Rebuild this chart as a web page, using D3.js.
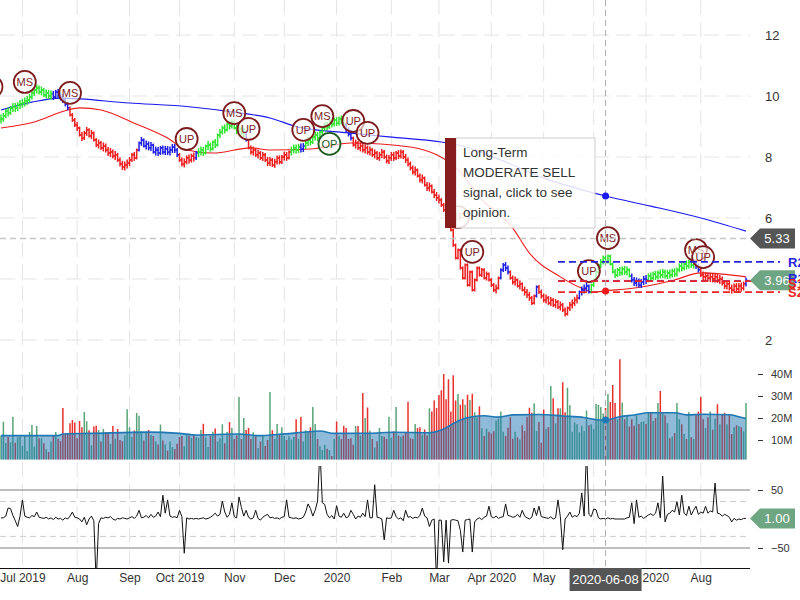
<!DOCTYPE html>
<html>
<head>
<meta charset="utf-8">
<script src="https://cdn.jsdelivr.net/npm/d3@7/dist/d3.min.js"></script>
<style>
  body { margin: 0; background: #fff; }
  svg { display: block; font-family: "Liberation Sans", Arial, sans-serif; }
</style>
</head>
<body>
<svg id="chart" width="800" height="600"></svg>
<script>
// [A] Datos -------------------------------------------------------------------
const firstDay = "2019-06-18";
const lastDay = "2020-08-28";

// cierre diario, una linea por mes
const closes = [
  9.25, 9.35, 9.5, 9.45, 9.6, 9.65, 9.6, 9.7, 9.75,
  9.77, 9.84, 9.87, 9.97, 10.1, 10.2, 10.26, 10.13, 10.2, 10.03, 10.1, 10.0, 10.07, 9.97, 10.13, 10.03, 9.97, 9.87, 9.74, 9.61, 9.38, 9.21, 9.05,
  8.95, 8.72, 8.62, 8.79, 8.89, 8.69, 8.79, 8.56, 8.39, 8.46, 8.30, 8.36, 8.23, 8.13, 8.16, 8.03, 8.07, 7.90, 7.77, 7.67, 7.74, 7.80,
  7.90, 8.07, 7.97, 8.23, 8.46, 8.56, 8.36, 8.43, 8.30, 8.39, 8.16, 8.23, 8.13, 8.30, 8.16, 8.26, 8.16, 8.23, 8.33, 8.23, 8.07,
  7.90, 7.77, 7.84, 7.97, 7.90, 8.03, 7.97, 8.13, 8.16, 8.23, 8.13, 8.36, 8.39, 8.26, 8.49, 8.39, 8.72, 8.82, 8.95, 8.89, 9.08, 9.02, 9.15,
  8.95, 8.85, 8.92, 8.79, 8.82, 8.56, 8.30, 8.16, 8.23, 8.07, 8.13, 7.97, 8.07, 7.90, 7.80, 7.90, 7.74, 7.84, 7.97, 7.84, 8.0,
  8.07, 7.97, 8.16, 8.23, 8.30, 8.23, 8.33, 8.26, 8.36, 8.46, 8.56, 8.49, 8.66, 8.72, 8.62, 8.82, 8.95, 9.05, 8.98, 9.15, 9.08, 9.21,
  9.11, 9.25, 9.18, 9.05, 8.89, 8.75, 8.62, 8.39, 8.46, 8.30, 8.36, 8.23, 8.30, 8.16, 8.23, 8.07, 8.13, 7.97, 8.07, 8.16, 8.0, 7.87, 7.97,
  8.07, 7.97, 8.13, 8.03, 8.16, 8.0, 7.90, 7.77, 7.64, 7.51, 7.57, 7.38, 7.25, 7.31, 7.08, 6.98, 7.05, 6.85, 6.75, 6.66,
  6.59, 6.43, 6.26, 6.10, 5.87, 5.61, 5.11, 4.69, 4.95, 4.36, 4.03, 4.46, 3.80, 4.23, 3.64, 3.97, 4.36, 4.13, 4.30, 4.03, 4.16, 3.97,
  3.80, 3.64, 3.70, 4.03, 4.30, 4.46, 4.36, 4.23, 4.03, 3.90, 3.97, 3.77, 3.84, 3.64, 3.57, 3.48, 3.38, 3.21, 3.44, 3.74, 3.57, 3.44,
  3.31, 3.38, 3.21, 3.31, 3.15, 3.25, 3.08, 3.15, 2.98, 2.85, 3.05, 3.15, 3.21, 3.31, 3.38, 3.57, 3.64, 3.70, 3.77, 3.57, 3.80,
  3.97, 4.23, 4.46, 4.56, 4.69, 4.56, 4.75, 4.49, 4.23, 4.13, 4.30, 4.20, 4.33, 4.23, 4.30, 4.10, 3.97, 3.87, 3.93, 3.80, 3.90, 4.0,
  3.97, 4.10, 4.03, 4.16, 4.07, 4.20, 4.13, 4.23, 4.10, 4.20, 4.13, 4.26, 4.16, 4.30, 4.43, 4.36, 4.49, 4.43, 4.56, 4.46, 4.52, 4.43, 4.30,
  4.13, 4.07, 4.10, 4.03, 4.07, 4.0, 4.07, 3.97, 4.0, 3.87, 3.77, 3.84, 3.70, 3.64, 3.77, 3.67, 3.77, 3.70, 3.84, 3.96
];

// volumen diario (millones)
const volumes = [
  12, 18.3, 8.6, 11.4, 9, 20.6, 8.7, 11.3, 12,
  7.3, 12, 5, 13.6, 16.8, 7, 16.4, 10.8, 10.8, 8.5, 5.8, 4.5, 9.3, 12.3, 13.6, 10.6, 9.5, 24.5, 13, 13, 17.6, 19.1, 18,
  10.8, 18.6, 15.8, 22.7, 18.5, 14.4, 7.6, 16.1, 16.5, 14.5, 9.3, 15, 13.6, 13.5, 8.3, 16.4, 10.6, 15, 10, 9.4, 12, 24,
  15.8, 11.4, 14.3, 22.3, 21, 14, 9.8, 13.5, 14.6, 12.3, 11.8, 9.3, 8, 17, 9.8, 7.9, 5.2, 9.3, 6.8, 5.9, 8.3,
  11.4, 11.8, 7.2, 12.7, 12.1, 11, 12.3, 11.2, 11, 14.6, 17.4, 11.2, 6.8, 11.8, 13.7, 15.2, 9.3, 10.8, 17.2, 8.5, 13.6, 18.2, 15.6,
  10.4, 12, 29.5, 10.4, 20, 14.6, 15.4, 10.4, 13.5, 11.8, 6.4, 9.3, 11.8, 7.3, 10, 31.8, 14.4, 10.5, 17.3, 12.7, 15.8,
  11.8, 10, 11.7, 10.2, 11.4, 19.4, 10.4, 20.6, 9.3, 14.4, 13.6, 15.8, 25, 17.3, 10.4, 7.2, 5.5, 7.8, 6, 5.5, 2.7, 10.4,
  18.4, 11.8, 10.4, 16.5, 15.5, 10.4, 10.8, 7.8, 16.4, 16.4, 12.1, 31.4, 20, 24.8, 14.2, 10.4, 6.6, 9.4, 15.5, 11.8, 11.5, 10.4, 20.6,
  11, 14, 25, 12, 11.5, 12.1, 13.6, 27.4, 10.8, 10.4, 17.3, 15.5, 15.8, 12.4, 14.8, 12, 24.4, 23, 28, 24.5,
  30.5, 32.6, 40, 28.5, 37.6, 23, 39.4, 28, 30.9, 26, 28.5, 26, 30.6, 28.2, 31, 22.6, 20.3, 25.3, 15.3, 11.8, 15.1, 13.8,
  12.9, 14, 18.9, 19.7, 23, 13.8, 11.8, 15.6, 20.3, 10.6, 13.8, 11.2, 10.2, 16.7, 14.1, 20.6, 24.7, 22.4, 26.7, 14.1, 18.2, 8.8,
  23.9, 15.1, 15.9, 34.5, 29, 17.6, 24.4, 24.4, 36.2, 22.6, 33.8, 25.8, 13.8, 18, 17.2, 13.5, 16.5, 14.1, 23.4, 16.7, 17.2,
  15, 26.4, 26, 25, 22, 24.5, 30.9, 27.3, 35, 26.8, 19.4, 46.7, 27, 19.4, 21.2, 16.1, 19.4, 16.5, 21.2, 17.3, 18.2, 18.5,
  17.3, 22.3, 22.7, 18.6, 20, 26.8, 32.3, 22.3, 21.2, 17.6, 10.8, 11.6, 13.2, 26.8, 19.4, 17.2, 12.7, 10.4, 22.7, 11.2, 10.4, 21.6, 23,
  29.7, 19.4, 15.5, 20.3, 23, 14.7, 19.7, 26.3, 17.2, 21.6, 22.4, 17.2, 21.2, 12.7, 15.8, 16.7, 16.4, 15.8, 14, 26.8
];

// oscilador diario
const oscValues = [
  2, 2, 5, 19, 18, 6, -3, -13, 5,
  33, 5, 3, 2, 6, 4, 12, 3, 2, 1, 3, 0, 2, -1, 3, 0, 1, -2, 2, 0, 5, 12, 3,
  2, 0, -5, 3, -10, 0, 5, -3, -110, -8, 2, 1, 3, 2, 4, 0, -2, 1, 0, 2, 1, 0,
  2, 4, 1, 5, 15, 2, 3, 6, 2, 8, 3, 5, 12, 4, 41, 10, 33, 5, 3, 4, 2,
  15, 4, -59, 2, 0, 1, 0, 1, 0, 1, 2, 0, 1, 3, 6, 10, 5, 8, 31, 12, 3, 8, 28,
  4, 2, 38, 20, 5, 15, 3, 0, 2, 15, 1, -2, 3, 6, 8, 2, 3, 1, 2, 0, 3,
  4, 33, 3, 2, 1, 2, 0, 1, 3, 12, 26, 18, 5, 15, 31, 120, 28, 25, 8, 2, 6, 0,
  23, 5, 3, 10, 2, 4, 15, 8, 0, 5, 3, 10, 4, 33, 2, 2, 59, 3, 2, 0, -36, 2, 1,
  2, 15, 4, 0, 2, -3, 15, 3, 4, 1, 3, 2, 6, 19, 5, 2, -13, -2, 0, -110,
  -2, -2, -74, -2, -76, -2, -1, -2, -3, -20, -57, -2, -1, 0, -57, -5, 0, 2, -1, 3, 5, 22,
  4, 2, 5, 1, 3, 4, 26, 6, 5, 3, 4, 8, 3, 15, 5, 2, 0, 3, 19, 6, 22, 4,
  3, 2, 1, 4, 0, 2, 33, 4, -53, 0, 5, 12, 3, 6, 4, 10, 45, 5, 120, 8, 4,
  17, 16, 2, 0, 1, 0, 2, 0, 1, 0, 0, 0, 0, 0, 2, 3, 28, -8, 33, 3, 5, 1,
  4, 7, 9, 6, 10, 28, 2, 74, -5, 8, 10, 15, 12, 30, 7, 41, 10, 6, 22, 7, 15, 22, 8,
  12, 10, 22, 10, 14, 12, 62, 10, 9, 5, 8, 6, 3, -5, 1, -2, 0, -1, 1, 1
];

// tramos de color de las barras (barra inicial de cada tramo)
const trendStartBar = [0, 22, 29, 58, 75, 82, 83, 103, 104, 122, 126, 128, 145, 148, 210, 214, 225, 226, 243, 248, 265, 272, 292, 294, 313];
const trendColor = ["green", "blue", "red", "blue", "red", "blue", "green", "blue", "red", "green", "blue", "green", "blue",
                    "red", "blue", "red", "blue", "red", "blue", "green", "blue", "green", "blue", "red", "blue"];

// senales sobre el precio
const signalBar = [-4, 10, 29, 78, 98, 104, 127, 135, 138, 148, 154, 192, 198, 247, 255, 292, 295];
const signalText = ["MS", "MS", "MS", "UP", "MS", "UP", "UP", "MS", "OP", "UP", "UP", "UP", "UP", "UP", "MS", "MS", "UP"];
const signalPrice = [10.30, 10.46, 10.10, 8.59, 9.44, 8.92, 8.89, 9.34, 8.43, 9.18, 8.79, 6.03, 4.89, 4.26, 5.34, 4.95, 4.72];

// medias moviles (leidas a intervalos)
const slowMaBar = [0, 13, 25, 54, 80, 97, 113, 125, 146, 163, 185, 194, 210, 227, 254, 273, 294, 313];
const slowMaValue = [9.54, 9.80, 9.93, 9.77, 9.64, 9.48, 9.28, 8.98, 8.79, 8.66, 8.49, 8.36, 7.90, 7.34, 6.72, 6.39, 6.00, 5.57];
const fastMaBar = [0, 14, 28, 33, 42, 56, 70, 78, 89, 105, 113, 130, 147, 172, 183, 188, 193, 201, 215, 222, 235, 244, 249, 254, 269, 283, 294, 313];
const fastMaValue = [8.95, 9.15, 9.54, 9.61, 9.54, 9.11, 8.62, 8.23, 8.13, 8.30, 8.23, 8.26, 8.46, 8.33, 8.07, 7.84, 7.51, 6.69, 5.67, 4.85, 4.07, 3.70, 3.57, 3.61, 3.74, 3.97, 4.20, 4.07];
const volMaBar = [0, 24, 26, 38, 62, 75, 82, 100, 108, 117, 127, 134, 140, 155, 165, 180, 185, 189, 193, 198, 203, 209, 215, 226, 236, 245, 252, 254, 260, 266, 272, 283, 288, 295, 306, 310, 313];
const volMaValue = [12.0, 12.0, 12.7, 13.0, 13.6, 13.0, 12.3, 12.7, 12.0, 12.6, 13.5, 14.1, 13.0, 13.1, 13.5, 13.3, 14.5, 16.8, 19.1, 20.6, 21.0, 20.4, 21.4, 21.6, 20.9, 20.2, 19.1, 19.1, 20.6, 21.4, 22.4, 22.4, 21.4, 21.7, 21.5, 20.6, 19.8];

// soportes y resistencias
const levelNames = ["R2", "R1", "S1", "S2"];
const levelValues = [4.56, 3.93, 3.93, 3.57];
const levelKind = ["res", "res", "sup", "sup"];
const levelStartBar = 234;

// ejes
const monthTickLabels = ["Jul 2019", "Aug", "Sep", "Oct 2019", "Nov", "Dec", "2020", "Feb", "Mar", "Apr 2020", "May", "Jun", "Jul 2020", "Aug"];
const priceTicks = [2, 4, 6, 8, 10, 12];
const volumeTicks = [10, 20, 30, 40];
const oscTicks = [-50, 50];
const oscBands = [-30, 30];

// cursor y aviso
const crosshairBar = 254;
const crosshairPrice = 5.33;
const tipLines = ["Long-Term", "MODERATE SELL", "signal, click to see", "opinion."];

// [B] Configuracion -----------------------------------------------------------
const width = 800;
const plotRight = 750;
const barColors = { green: "#2fe42f", blue: "#1e1ee6", red: "#ee1e1e" };

const svg = d3.select("#chart");
const parseDay = d3.timeParse("%Y-%m-%d");
const dates = d3.timeDay.range(parseDay(firstDay), d3.timeDay.offset(parseDay(lastDay), 1))
  .filter(d => d.getDay() % 6 !== 0)
  .slice(0, closes.length);

const x = d3.scaleLinear().domain([0, closes.length - 1]).range([1, 746]);
const yPrice = d3.scaleLinear().domain([2, 12]).range([340, 35]);
const yVol = d3.scaleLinear().domain([0, 40]).range([462, 374]);
const yOsc = d3.scaleLinear().domain([-50, 50]).range([548, 490]);

const defs = svg.append("defs");
function addClip(id, y0, y1) {
  defs.append("clipPath").attr("id", id).append("rect")
    .attr("x", -20).attr("y", y0).attr("width", plotRight + 20).attr("height", y1 - y0);
}
addClip("clipPrice", 0, 352);
addClip("clipVol", 352, 459.5);
addClip("clipOsc", 466, 568);

const zip = (a, b) => a.map((v, k) => [v, b[k]]);

// [C] Cuadricula --------------------------------------------------------------
const monthBars = d3.range(1, dates.length).filter(i => dates[i].getMonth() !== dates[i - 1].getMonth());

svg.append("g").selectAll("line").data(monthBars).join("line")
  .attr("x1", d => x(d)).attr("x2", d => x(d))
  .attr("y1", 0).attr("y2", 568)
  .attr("stroke", "#e4e4e4").attr("stroke-dasharray", "15,7");

svg.append("g").selectAll("line").data(priceTicks).join("line")
  .attr("x1", 0).attr("x2", plotRight)
  .attr("y1", d => yPrice(d)).attr("y2", d => yPrice(d))
  .attr("stroke", "#e4e4e4").attr("stroke-dasharray", "15,7");

// [D] Panel de precio ---------------------------------------------------------
const gPrice = svg.append("g").attr("clip-path", "url(#clipPrice)");
const maLine = d3.line().x(d => x(d[0])).y(d => yPrice(d[1])).curve(d3.curveMonotoneX);

gPrice.append("path").datum(zip(slowMaBar, slowMaValue))
  .attr("d", maLine).attr("fill", "none").attr("stroke", "#1a1aee").attr("stroke-width", 1.1);
gPrice.append("path").datum(zip(fastMaBar, fastMaValue))
  .attr("d", maLine).attr("fill", "none").attr("stroke", "#ee1a1a").attr("stroke-width", 1.1);

// barra: de la apertura (cierre previo) al cierre, con alto minimo visible
const colorOf = i => barColors[trendColor[d3.bisectRight(trendStartBar, i) - 1]];
const bars = closes.map((c, i) => {
  const open = i ? closes[i - 1] : c;
  const a = yPrice(open), b = yPrice(c);
  const mid = (a + b) / 2, half = Math.max(Math.abs(a - b) / 2 + 1.5, 4.5);
  return { i, yOpen: a, yClose: b, top: mid - half, bottom: mid + half, color: colorOf(i) };
});

const gBars = gPrice.append("g").attr("stroke-width", 1.5);
gBars.selectAll("line.body").data(bars).join("line").attr("class", "body")
  .attr("x1", d => x(d.i)).attr("x2", d => x(d.i))
  .attr("y1", d => d.top).attr("y2", d => d.bottom)
  .attr("stroke", d => d.color);
gBars.selectAll("line.open").data(bars).join("line").attr("class", "open")
  .attr("x1", d => x(d.i) - 1.5).attr("x2", d => x(d.i))
  .attr("y1", d => d.yOpen).attr("y2", d => d.yOpen)
  .attr("stroke", d => d.color);
gBars.selectAll("line.close").data(bars).join("line").attr("class", "close")
  .attr("x1", d => x(d.i)).attr("x2", d => x(d.i) + 1.5)
  .attr("y1", d => d.yClose).attr("y2", d => d.yClose)
  .attr("stroke", d => d.color);

// soportes / resistencias
const levelColor = k => levelKind[k] === "res" ? "#2424dd" : "#ee2424";
svg.append("g").selectAll("line").data(levelValues).join("line")
  .attr("x1", x(levelStartBar)).attr("x2", width - 20)
  .attr("y1", d => yPrice(d)).attr("y2", d => yPrice(d))
  .attr("stroke", (d, k) => levelColor(k))
  .attr("stroke-width", 1.8).attr("stroke-dasharray", "7,4");

// circulos de senal
const signals = signalBar.map((b, k) => ({ b, text: signalText[k], price: signalPrice[k] }));
const gSig = gPrice.append("g").selectAll("g").data(signals).join("g")
  .attr("transform", d => `translate(${x(d.b)},${yPrice(d.price)})`);
gSig.append("circle").attr("r", 11)
  .attr("fill", "#fff").attr("fill-opacity", 0.65)
  .attr("stroke", d => d.text === "OP" ? "#1d5c1d" : "#7c1c1c").attr("stroke-width", 1.8);
gSig.append("text").text(d => d.text)
  .attr("text-anchor", "middle").attr("dy", "0.36em")
  .attr("font-size", 11).attr("fill", d => d.text === "OP" ? "#1d5c1d" : "#7c1c1c");

// [E] Panel de volumen --------------------------------------------------------
const gVol = svg.append("g").attr("clip-path", "url(#clipVol)");
gVol.append("g").selectAll("line").data(volumes).join("line")
  .attr("x1", (d, i) => x(i)).attr("x2", (d, i) => x(i))
  .attr("y1", yVol(0)).attr("y2", d => yVol(d))
  .attr("stroke", (d, i) => (i && closes[i] < closes[i - 1]) ? "#e8302c" : "#58a478")
  .attr("stroke-width", 1.5);

const volMa = zip(volMaBar, volMaValue);
gVol.append("path").datum(volMa)
  .attr("d", d3.area().x(d => x(d[0])).y0(yVol(0)).y1(d => yVol(d[1])).curve(d3.curveMonotoneX))
  .attr("fill", "#1f77b4").attr("fill-opacity", 0.5);
gVol.append("path").datum(volMa)
  .attr("d", d3.line().x(d => x(d[0])).y(d => yVol(d[1])).curve(d3.curveMonotoneX))
  .attr("fill", "none").attr("stroke", "#1f77b4").attr("stroke-width", 1.6);

// [F] Panel del oscilador -----------------------------------------------------
svg.append("g").selectAll("line").data(oscTicks).join("line")
  .attr("x1", 0).attr("x2", plotRight)
  .attr("y1", d => yOsc(d)).attr("y2", d => yOsc(d))
  .attr("stroke", "#a8a8a8").attr("stroke-width", 1.3);
svg.append("g").selectAll("line").data(oscBands).join("line")
  .attr("x1", 0).attr("x2", plotRight)
  .attr("y1", d => yOsc(d)).attr("y2", d => yOsc(d))
  .attr("stroke", "#cccccc").attr("stroke-dasharray", "6,4");

svg.append("g").attr("clip-path", "url(#clipOsc)")
  .append("path").datum(oscValues)
  .attr("d", d3.line().x((d, i) => x(i)).y(d => yOsc(d)))
  .attr("fill", "none").attr("stroke", "#111").attr("stroke-width", 1);

// [G] Ejes --------------------------------------------------------------------
function styleAxis(g, size) {
  g.attr("font-size", size).attr("font-family", null).attr("color", "#333");
  g.select(".domain").remove();
}

svg.append("g").attr("transform", "translate(758,0)")
  .call(d3.axisRight(yPrice).tickValues(priceTicks).tickSize(0).tickPadding(7))
  .call(g => styleAxis(g, 13));

svg.append("g").attr("transform", "translate(758,0)")
  .call(d3.axisRight(yVol).tickValues(volumeTicks).tickSize(5).tickPadding(8).tickFormat(d => d + "M"))
  .call(g => styleAxis(g, 11));

svg.append("g").attr("transform", "translate(758,0)")
  .call(d3.axisRight(yOsc).tickValues(oscTicks).tickSize(5).tickPadding(8))
  .call(g => styleAxis(g, 11));

svg.append("g").attr("transform", "translate(0,568)")
  .call(d3.axisBottom(x).tickValues(monthBars).tickFormat((d, k) => monthTickLabels[k]).tickSize(0).tickPadding(5))
  .call(g => styleAxis(g, 12));

svg.append("line").attr("x1", 0).attr("x2", plotRight).attr("y1", 568.5).attr("y2", 568.5)
  .attr("stroke", "#111");

// [H] Cursor ------------------------------------------------------------------
const cx = x(crosshairBar);
svg.append("line").attr("x1", cx).attr("x2", cx).attr("y1", 0).attr("y2", 568)
  .attr("stroke", "#aaa").attr("stroke-dasharray", "6,4");
svg.append("line").attr("x1", 0).attr("x2", plotRight)
  .attr("y1", yPrice(crosshairPrice)).attr("y2", yPrice(crosshairPrice))
  .attr("stroke", "#c4c4c4").attr("stroke-width", 1.5).attr("stroke-dasharray", "6,4");

const valueAt = (barList, values) => values[barList.indexOf(crosshairBar)];
svg.append("circle").attr("cx", cx).attr("cy", yPrice(valueAt(slowMaBar, slowMaValue))).attr("r", 3.5).attr("fill", "#1a1aee");
svg.append("circle").attr("cx", cx).attr("cy", yPrice(valueAt(fastMaBar, fastMaValue))).attr("r", 3.5).attr("fill", "#ee1a1a");
svg.append("circle").attr("cx", cx).attr("cy", yVol(valueAt(volMaBar, volMaValue))).attr("r", 3.5).attr("fill", "#1f77b4");

// [I] Etiquetas a la derecha --------------------------------------------------
function flag(yPos, label, fill) {
  const g = svg.append("g").attr("transform", `translate(0,${yPos})`);
  g.append("path").attr("d", "M750,0L760,-10H795V10H760Z").attr("fill", fill);
  g.append("text").attr("x", 777).attr("dy", "0.36em").attr("text-anchor", "middle")
    .attr("font-size", 13).attr("fill", "#fff").text(label);
}
flag(yPrice(crosshairPrice), crosshairPrice.toFixed(2), "#555555");
flag(yPrice(closes[closes.length - 1]), closes[closes.length - 1].toFixed(2), "#6ea582");
flag(yOsc(oscValues[oscValues.length - 1]), oscValues[oscValues.length - 1].toFixed(2), "#6ea582");

const levelNudge = [0, -3, 2, 0];
svg.append("g").selectAll("text").data(levelValues).join("text")
  .attr("x", 788).attr("y", (d, k) => yPrice(d) + levelNudge[k])
  .attr("dy", "0.36em").attr("font-size", 13).attr("font-weight", "bold")
  .attr("fill", (d, k) => levelColor(k)).text((d, k) => levelNames[k]);

// [J] Aviso de senal ----------------------------------------------------------
const tip = svg.append("g");
tip.append("rect").attr("x", 456).attr("y", 138).attr("width", 139).attr("height", 90)
  .attr("fill", "#fff").attr("fill-opacity", 0.86).attr("stroke", "#cfcfcf");
tip.append("rect").attr("x", 445).attr("y", 138).attr("width", 11).attr("height", 90)
  .attr("fill", "#861d1d");
tip.selectAll("text").data(tipLines).join("text")
  .attr("x", 463).attr("y", (d, k) => 157 + k * 20)
  .attr("font-size", 13.5).attr("fill", "#333").text(d => d);

// [K] Fecha del cursor --------------------------------------------------------
const dateLabel = svg.append("g").attr("transform", `translate(${cx},568)`);
dateLabel.append("rect").attr("x", -36).attr("y", 0).attr("width", 72).attr("height", 23).attr("fill", "#555");
dateLabel.append("text").attr("y", 16).attr("text-anchor", "middle")
  .attr("font-size", 13).attr("fill", "#fff")
  .text(d3.timeFormat("%Y-%m-%d")(dates[crosshairBar]));
</script>
</body>
</html>
